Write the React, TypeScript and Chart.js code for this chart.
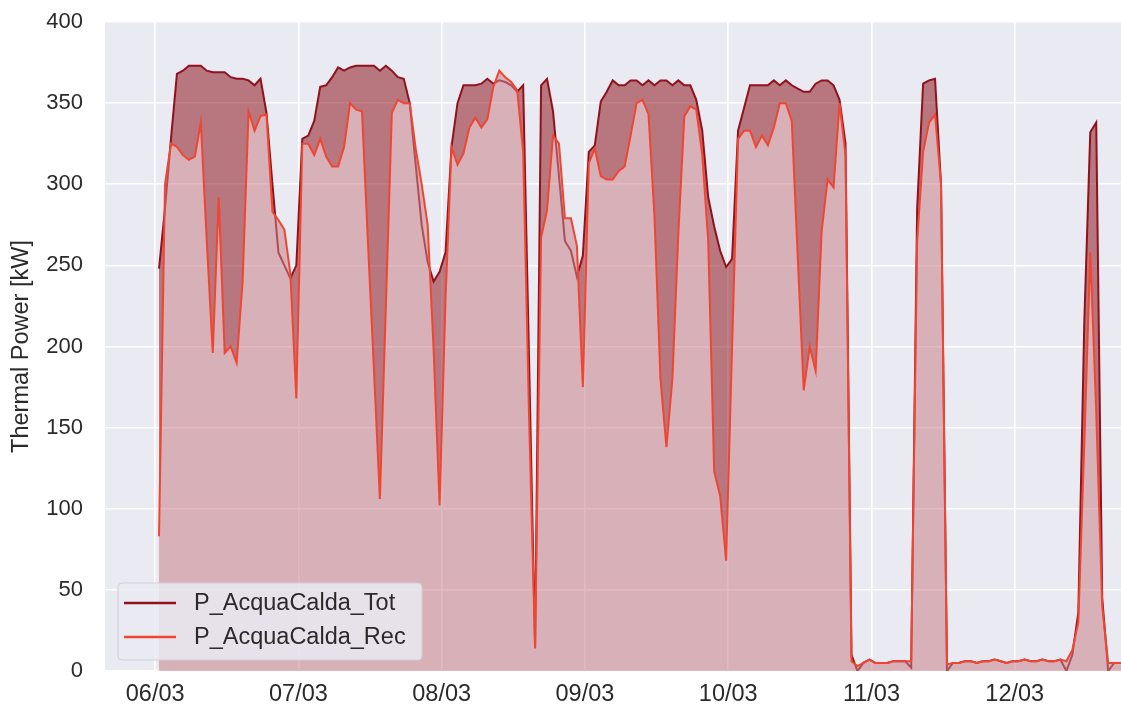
import React, { useEffect, useRef } from 'react';
import { Chart, registerables } from 'chart.js';

Chart.register(...registerables);

// ---- data -------------------------------------------------------------
const dayLabels = ['06/03', '07/03', '08/03', '09/03', '10/03', '11/03', '12/03'];
const seriesNames = ['P_AcquaCalda_Tot', 'P_AcquaCalda_Rec'];
const yTicks = [0, 50, 100, 150, 200, 250, 300, 350, 400];
// hourly samples, first one at 06/03 00:39
const startHour = 0.65;

const pTot = [
  248, 285, 328, 368, 370, 373, 373, 373, 370, 369, 369, 369, 366, 365, 365, 364, 361, 365, 344, 300,
  258, 250, 242, 250, 328, 330, 339, 360, 361, 366, 372, 370, 372, 373, 373, 373, 373, 370, 373, 370,
  366, 365, 350, 312, 275, 252, 240, 246, 258, 323, 350, 361, 361, 361, 362, 365, 362, 364, 363, 361,
  357, 361, 190, 14, 361, 365, 345, 305, 265, 259, 243, 256, 320, 324, 351, 357, 364, 361, 361, 364,
  364, 361, 364, 361, 364, 364, 361, 364, 361, 361, 352, 333, 292, 274, 259, 249, 254, 333, 347, 361,
  361, 361, 361, 364, 361, 364, 361, 359, 357, 357, 362, 364, 364, 361, 352, 325, 10, 0, 5, 7,
  5, 5, 5, 6, 6, 6, 2, 285, 362, 364, 365, 300, 0, 5, 5, 6, 6, 5, 6, 6,
  7, 6, 5, 6, 6, 7, 6, 6, 7, 6, 6, 7, 0, 10, 36, 215, 332, 338, 45, 0,
  5, 5, 5,
];

const pRec = [
  83, 300, 325, 323, 318, 315, 317, 338, 265, 196, 292, 196, 200, 190, 240, 345, 333, 342, 343, 283,
  278, 272, 245, 168, 325, 325, 318, 328, 317, 311, 311, 323, 350, 346, 345, 264, 186, 106, 225, 344,
  352, 350, 350, 322, 300, 275, 198, 102, 230, 323, 312, 319, 335, 341, 335, 340, 360, 370, 366, 363,
  358, 320, 155, 14, 267, 284, 330, 325, 279, 279, 262, 175, 313, 322, 305, 303, 303, 308, 311, 330,
  350, 352, 343, 280, 180, 138, 180, 270, 342, 348, 346, 318, 265, 123, 108, 68, 200, 328, 333, 333,
  323, 330, 324, 335, 350, 350, 339, 255, 173, 200, 185, 271, 303, 298, 350, 318, 6, 3, 5, 7,
  5, 5, 5, 6, 6, 6, 6, 265, 320, 338, 343, 300, 4, 5, 5, 6, 6, 5, 6, 6,
  7, 6, 5, 6, 6, 7, 6, 6, 7, 6, 6, 7, 6, 13, 30, 140, 258, 160, 40, 5,
  5, 5, 5,
];

// ---- style ------------------------------------------------------------
const FONT = '"Liberation Sans", Arial, sans-serif';
const TEXT = '#2a2a2a';
const BG = '#EAEAF2';
const TOT_LINE = '#8f121c';
const REC_LINE = '#ef4632';
const TOT_FILL = 'rgba(140,15,25,0.53)';
const REC_FILL = 'rgba(200,128,136,0.55)';

const bgPlugin = {
  id: 'bgPlugin',
  beforeDraw(chart: any) {
    const { ctx, chartArea } = chart;
    ctx.save();
    ctx.fillStyle = BG;
    ctx.fillRect(chartArea.left, chartArea.top, chartArea.right - chartArea.left, chartArea.bottom - chartArea.top);
    ctx.restore();
  },
};

const legendPlugin = {
  id: 'boxLegend',
  afterDraw(chart: any) {
    const { ctx, chartArea } = chart;
    const x0 = chartArea.left + 13;
    const y0 = chartArea.bottom - 88;
    const w = 304;
    const h = 77;
    const r = 4;
    ctx.save();
    ctx.beginPath();
    ctx.moveTo(x0 + r, y0);
    ctx.lineTo(x0 + w - r, y0);
    ctx.quadraticCurveTo(x0 + w, y0, x0 + w, y0 + r);
    ctx.lineTo(x0 + w, y0 + h - r);
    ctx.quadraticCurveTo(x0 + w, y0 + h, x0 + w - r, y0 + h);
    ctx.lineTo(x0 + r, y0 + h);
    ctx.quadraticCurveTo(x0, y0 + h, x0, y0 + h - r);
    ctx.lineTo(x0, y0 + r);
    ctx.quadraticCurveTo(x0, y0, x0 + r, y0);
    ctx.closePath();
    ctx.fillStyle = 'rgba(234,234,242,0.85)';
    ctx.fill();
    ctx.strokeStyle = '#cfcfd6';
    ctx.lineWidth = 1;
    ctx.stroke();
    const colors = [TOT_LINE, REC_LINE];
    seriesNames.forEach((name, i) => {
      const y = y0 + 20 + i * 34;
      ctx.beginPath();
      ctx.moveTo(x0 + 6, y);
      ctx.lineTo(x0 + 58, y);
      ctx.strokeStyle = colors[i];
      ctx.lineWidth = 2.5;
      ctx.stroke();
      ctx.fillStyle = TEXT;
      ctx.font = `23.5px ${FONT}`;
      ctx.textBaseline = 'middle';
      ctx.textAlign = 'left';
      ctx.fillText(name, x0 + 76, y + 1);
    });
    ctx.restore();
  },
};

export default function App() {
  const ref = useRef<HTMLCanvasElement | null>(null);

  useEffect(() => {
    if (!ref.current) return;
    const hours = pTot.map((_, i) => startHour + i);
    const chart = new Chart(ref.current, {
      type: 'line',
      data: {
        datasets: [
          {
            label: seriesNames[0],
            data: pTot.map((v, i) => ({ x: hours[i], y: v })),
            borderColor: TOT_LINE,
            borderWidth: 2,
            pointRadius: 0,
            tension: 0,
            order: 1,
            fill: { target: 1, above: TOT_FILL, below: 'rgba(0,0,0,0)' },
          },
          {
            label: seriesNames[1],
            data: pRec.map((v, i) => ({ x: hours[i], y: v })),
            borderColor: REC_LINE,
            borderWidth: 2,
            pointRadius: 0,
            tension: 0,
            order: 0,
            fill: { target: 'origin', above: REC_FILL, below: REC_FILL },
          },
        ],
      },
      options: {
        responsive: false,
        animation: false,
        events: [],
        layout: { padding: { left: 0, top: 22, right: 0, bottom: 0 } },
        plugins: {
          legend: { display: false },
          tooltip: { enabled: false },
        },
        scales: {
          x: {
            type: 'linear',
            min: -8.4,
            max: 161.8,
            afterBuildTicks: (scale: any) => {
              scale.ticks = dayLabels.map((_, i) => ({ value: i * 24 }));
            },
            afterFit: (scale: any) => {
              scale.height = 42;
            },
            ticks: {
              callback: (v: any) => dayLabels[Math.round(Number(v) / 24)] ?? '',
              font: { family: FONT, size: 23.5 },
              color: TEXT,
              padding: 9,
              maxRotation: 0,
              autoSkip: false,
            },
            grid: { color: '#ffffff', lineWidth: 1.6, drawTicks: false },
            border: { display: false },
          },
          y: {
            min: 0,
            max: 400,
            afterBuildTicks: (scale: any) => {
              scale.ticks = yTicks.map((v) => ({ value: v }));
            },
            afterFit: (scale: any) => {
              scale.width = 105;
            },
            ticks: {
              font: { family: FONT, size: 22 },
              color: TEXT,
              padding: 0,
            },
            grid: {
              color: '#ffffff',
              lineWidth: 1.6,
              drawTicks: true,
              tickLength: 22,
              tickColor: 'rgba(0,0,0,0)',
            },
            border: { display: false },
            title: {
              display: true,
              text: 'Thermal Power [kW]',
              font: { family: FONT, size: 23.5 },
              color: TEXT,
              padding: { top: 7, bottom: 0 },
            },
          },
        },
      },
      plugins: [bgPlugin, legendPlugin],
    });
    return () => chart.destroy();
  }, []);

  return (
    <div style={{ position: 'fixed', left: 0, top: 0, width: 1121, height: 713, background: '#ffffff' }}>
      <canvas ref={ref} width={1121} height={713} style={{ display: 'block' }} />
    </div>
  );
}
